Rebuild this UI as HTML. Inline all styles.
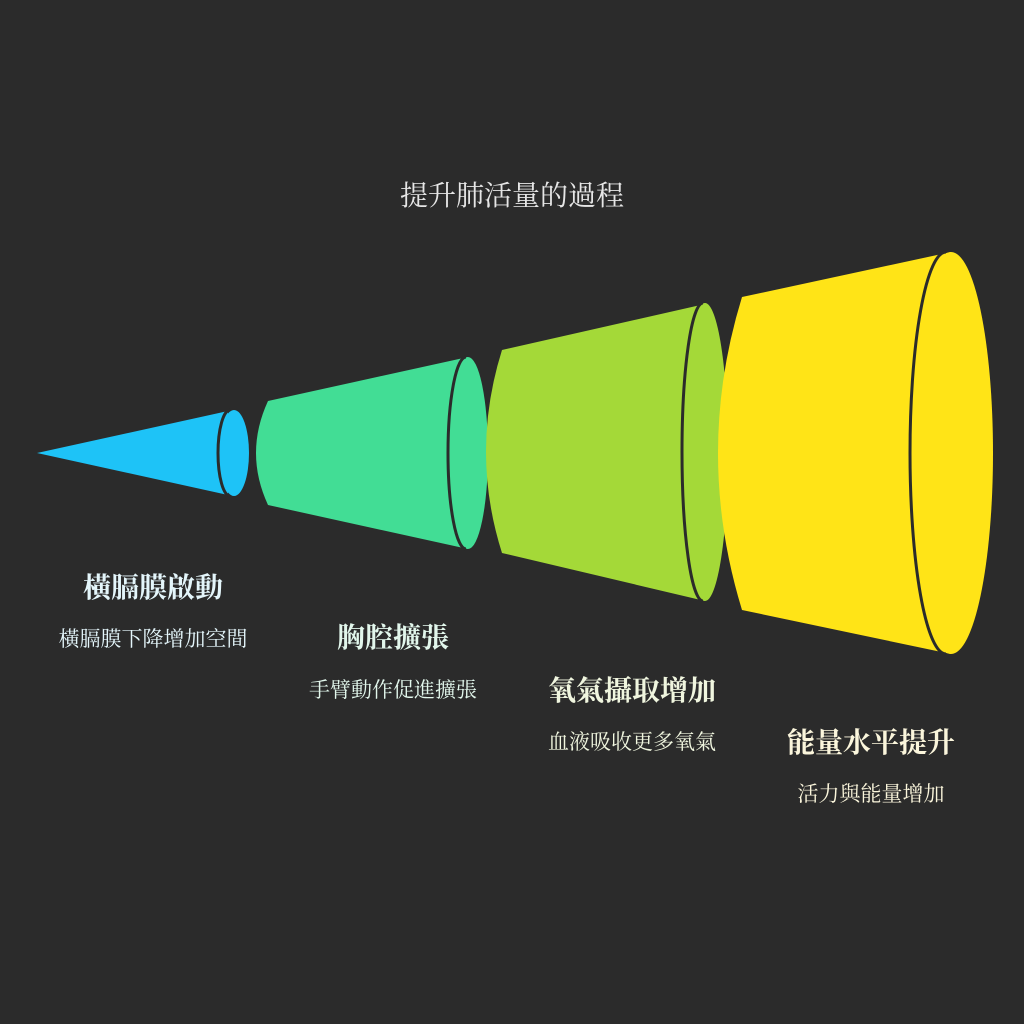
<!DOCTYPE html>
<html><head><meta charset="utf-8"><style>
html,body{margin:0;padding:0;background:#2b2b2b;}
svg{display:block}
.t{font-family:"Liberation Serif","Noto Serif CJK SC","Noto Sans CJK TC",serif;}
</style></head><body>
<svg width="1024" height="1024" viewBox="0 0 1024 1024" xmlns="http://www.w3.org/2000/svg">
<rect width="1024" height="1024" fill="#2b2b2b"/>
<text x="512" y="205" text-anchor="middle" font-size="28" fill="#e6e6e6" font-family="Liberation Serif,Noto Serif CJK SC,serif">提升肺活量的過程</text>

<path d="M37 453 L228 411 L228 495 Z" fill="#1ec3f7"/>
<ellipse cx="234" cy="453" rx="15" ry="43" fill="#1ec3f7"/>
<path d="M230 410 A 12 43 0 0 0 230 496" fill="none" stroke="#2b2b2b" stroke-width="3"/>

<path d="M268 401 L468 357 L468 549 L268 505 Q244 453 268 401 Z" fill="#42dd95"/>
<ellipse cx="468" cy="453" rx="20" ry="96" fill="#42dd95"/>
<path d="M466 357 A 18 96 0 0 0 466 549" fill="none" stroke="#2b2b2b" stroke-width="3"/>

<path d="M502 350 L705 304 L705 601 L502 553 Q470 452 502 350 Z" fill="#a4d938"/>
<ellipse cx="705" cy="452" rx="23" ry="149" fill="#a4d938"/>
<path d="M703 303 A 21 149 0 0 0 703 601" fill="none" stroke="#2b2b2b" stroke-width="3"/>

<path d="M742 297 L951 252 L951 654 L742 610 Q694 453 742 297 Z" fill="#ffe417"/>
<ellipse cx="951" cy="453" rx="42" ry="201" fill="#ffe417"/>
<path d="M946 252 A 36 201 0 0 0 946 654" fill="none" stroke="#2b2b2b" stroke-width="3"/>

<g class="t" text-anchor="middle">
<text x="153" y="597" font-size="28" font-weight="bold" fill="#e4f6fb">橫膈膜啟動</text>
<text x="153" y="646" font-size="21" fill="#e4f6fb">橫膈膜下降增加空間</text>
<text x="393" y="647" font-size="28" font-weight="bold" fill="#e2f7ec">胸腔擴張</text>
<text x="393" y="697" font-size="21" fill="#e2f7ec">手臂動作促進擴張</text>
<text x="632" y="700" font-size="28" font-weight="bold" fill="#f0f6df">氧氣攝取增加</text>
<text x="632" y="749" font-size="21" fill="#f0f6df">血液吸收更多氧氣</text>
<text x="871" y="752" font-size="28" font-weight="bold" fill="#fbf6dc">能量水平提升</text>
<text x="871" y="801" font-size="21" fill="#fbf6dc">活力與能量增加</text>
</g>
</svg>
</body></html>
